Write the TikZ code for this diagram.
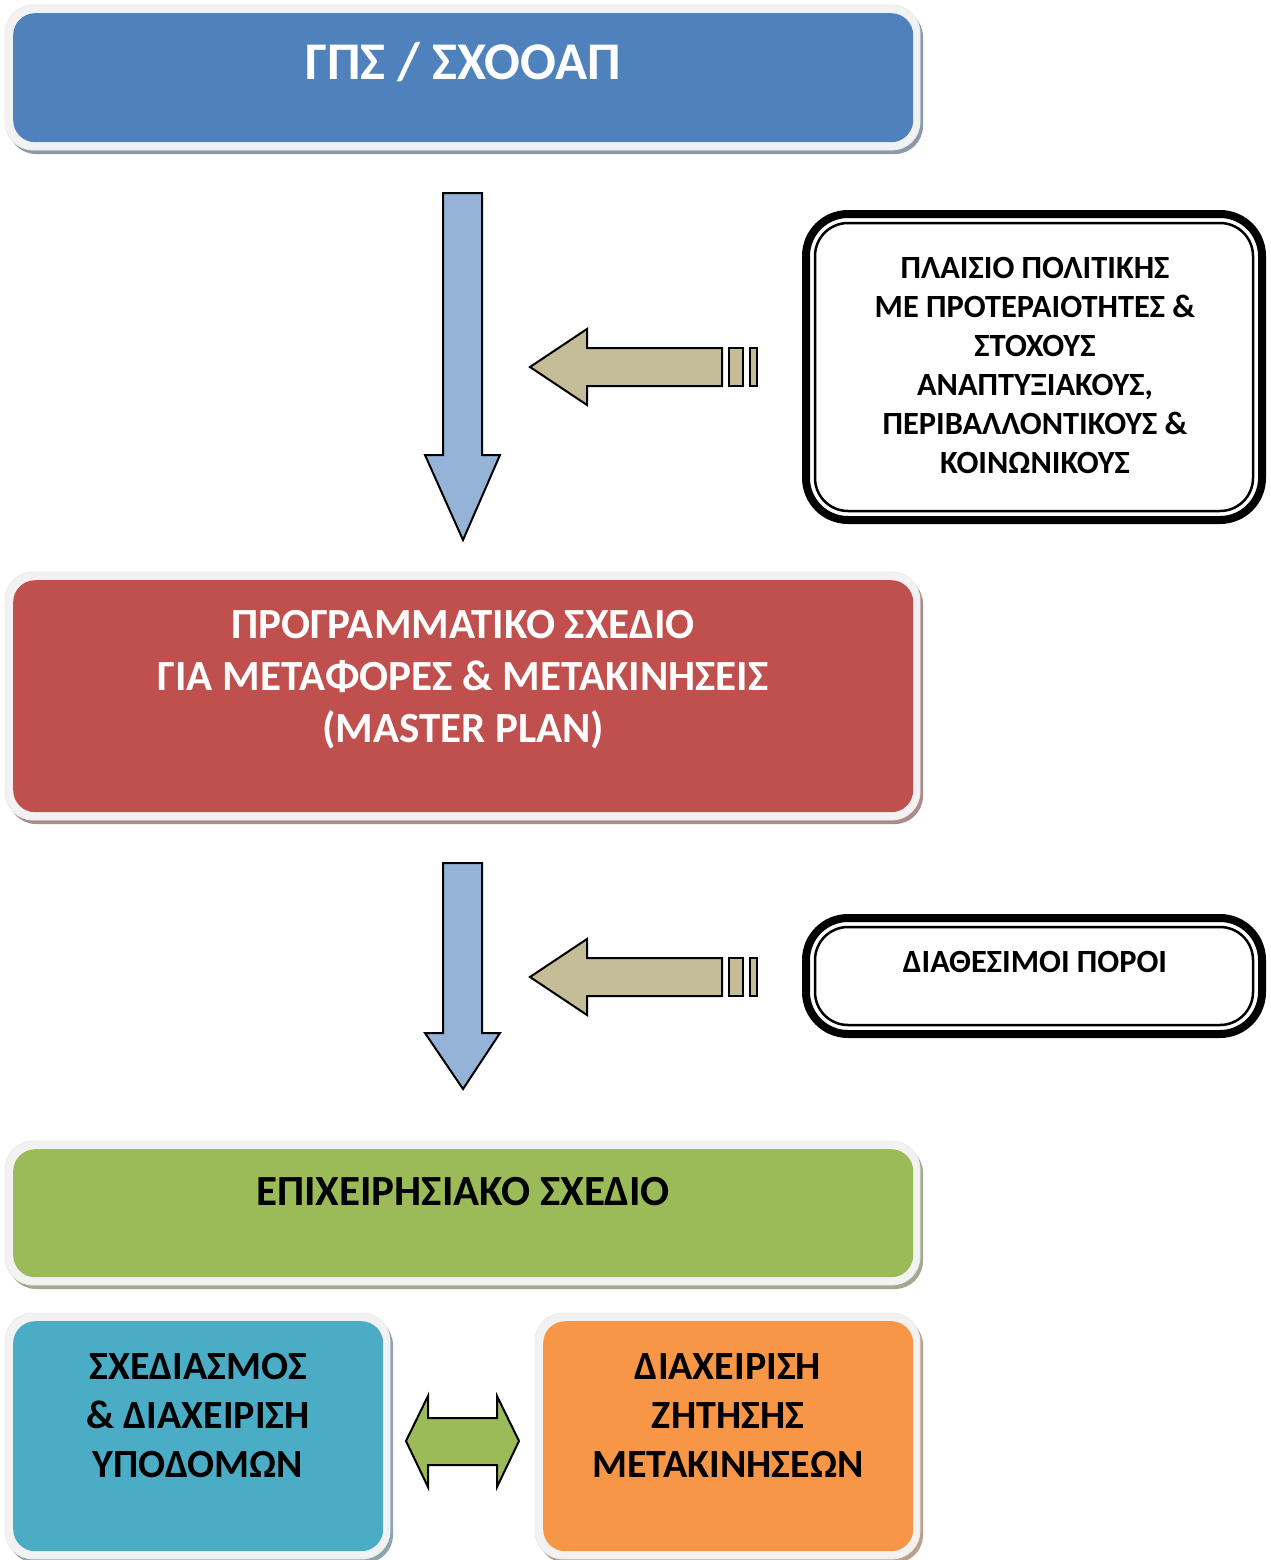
\documentclass[tikz,border=0pt]{standalone}
\usepackage{fontspec}
\setmainfont{Carlito}
\definecolor{cblue}{HTML}{4F81BD}
\definecolor{cred}{HTML}{C0504D}
\definecolor{cgreen}{HTML}{9BBB59}
\definecolor{cteal}{HTML}{4BACC6}
\definecolor{corange}{HTML}{F79646}
\definecolor{arrblue}{HTML}{95B3D7}
\definecolor{arrtan}{HTML}{C4BD97}
\definecolor{framegray}{HTML}{F2F2F2}
\tikzset{
  frameshape/.style={fill=framegray, draw=black!8, line width=0.8pt, rounded corners=28pt},
  shadowshape/.style={fill=#1!35!gray!80, rounded corners=28pt},
  innerbox/.style={fill=#1, rounded corners=22pt, inner sep=0pt, anchor=north west},
  arrowshape/.style={draw=black, line width=2pt, line join=miter},
  wtxt/.style={text=white, font=\bfseries\fontsize{43}{52}\selectfont, align=center},
  btxt/.style={text=black, font=\bfseries\fontsize{40}{49}\selectfont, align=center},
  sidetxt/.style={text=black, font=\bfseries\fontsize{32.4}{39}\selectfont, align=center},
  outerline/.style={draw=black, line width=8pt, rounded corners=42pt, fill=white},
  innerline/.style={draw=black, line width=2.5pt, rounded corners=33pt},
}
% #1 x1, #2 y1, #3 x2, #4 y2 (frame), #5 colour, #6 name
\newcommand\shinybox[6]{%
  \fill[shadowshape=#5] ({#1+3},{#2+4}) rectangle ({#3+3},{#4+4});
  \path[frameshape] (#1,#2) rectangle (#3,#4);
  \node[innerbox=#5, minimum width={(#3)-(#1)-15}, minimum height={(#4)-(#2)-16}] (#6) at ({#1+8},{#2+8}) {};
}
\newcommand\tanarrow[2]{% #1 y centre, #2 name
  \coordinate (#2) at (530,#1);
  \path[arrowshape, fill=arrtan] (#2) -- (587,{#1-38}) -- (587,{#1-19}) -- (722,{#1-19}) -- (722,{#1+19}) -- (587,{#1+19}) -- (587,{#1+38}) -- cycle;
  \path[arrowshape, fill=arrtan] (729,{#1-19}) rectangle (743,{#1+19});
  \path[arrowshape, fill=arrtan] (750,{#1-19}) rectangle (757,{#1+19});
}
\newcommand\bluedownarrow[3]{% #1 y top, #2 y head, #3 y tip
  \path[arrowshape, fill=arrblue] (443,#1) -- (482,#1) -- (482,#2) -- (500,#2) -- (463,#3) -- (425,#2) -- (443,#2) -- cycle;
}
\begin{document}
\begin{tikzpicture}[x=1pt,y=-1pt]
\useasboundingbox[fill=white] (0,0) rectangle (1270,1560);
\begin{scope}
\clip (0,0) rectangle (1270,1560);
% main boxes
\shinybox{5}{5}{920}{150}{cblue}{gps}
\shinybox{5}{572}{920}{820}{cred}{master}
\shinybox{5}{1141}{920}{1285}{cgreen}{epix}
\shinybox{5}{1313}{390}{1559}{cteal}{infra}
\shinybox{535}{1313}{920}{1559}{corange}{demand}
\end{scope}
\node[text=white, font=\bfseries\fontsize{53}{60}\selectfont] (gpst) at (463,62) {ΓΠΣ / ΣΧΟΟΑΠ};
\node[wtxt] (mastert) at (463,680) {ΠΡΟΓΡΑΜΜΑΤΙΚΟ ΣΧΕΔΙΟ\\ΓΙΑ ΜΕΤΑΦΟΡΕΣ \& ΜΕΤΑΚΙΝΗΣΕΙΣ\\(MASTER PLAN)};
\node[wtxt, text=black] (epixt) at (463,1192) {ΕΠΙΧΕΙΡΗΣΙΑΚΟ ΣΧΕΔΙΟ};
\node[btxt] (infrat) at (198,1416) {ΣΧΕΔΙΑΣΜΟΣ\\\& ΔΙΑΧΕΙΡΙΣΗ\\ΥΠΟΔΟΜΩΝ};
\node[btxt] (demandt) at (728,1416) {ΔΙΑΧΕΙΡΙΣΗ\\ΖΗΤΗΣΗΣ\\ΜΕΤΑΚΙΝΗΣΕΩΝ};
% side boxes
\path[outerline] (806,214) rectangle (1262,520);
\path[innerline] (815,223) rectangle (1253,511);
\node[sidetxt] (policy) at (1035,365) {ΠΛΑΙΣΙΟ ΠΟΛΙΤΙΚΗΣ\\ΜΕ ΠΡΟΤΕΡΑΙΟΤΗΤΕΣ \&\\ΣΤΟΧΟΥΣ\\ΑΝΑΠΤΥΞΙΑΚΟΥΣ,\\ΠΕΡΙΒΑΛΛΟΝΤΙΚΟΥΣ \&\\ΚΟΙΝΩΝΙΚΟΥΣ};
\path[outerline] (806,918) rectangle (1262,1034);
\path[innerline] (815,927) rectangle (1253,1025);
\node[sidetxt] (resources) at (1035,962) {ΔΙΑΘΕΣΙΜΟΙ ΠΟΡΟΙ};
% arrows
\bluedownarrow{193}{455}{540}
\bluedownarrow{863}{1033}{1089}
\tanarrow{367}{tipa}
\tanarrow{977}{tipb}
\path[arrowshape, fill=cgreen] (406,1441) -- (428,1396) -- (428,1418) -- (497,1418) -- (497,1396) -- (519,1441) -- (497,1487) -- (497,1465) -- (428,1465) -- (428,1487) -- cycle;
\end{tikzpicture}
\end{document}
